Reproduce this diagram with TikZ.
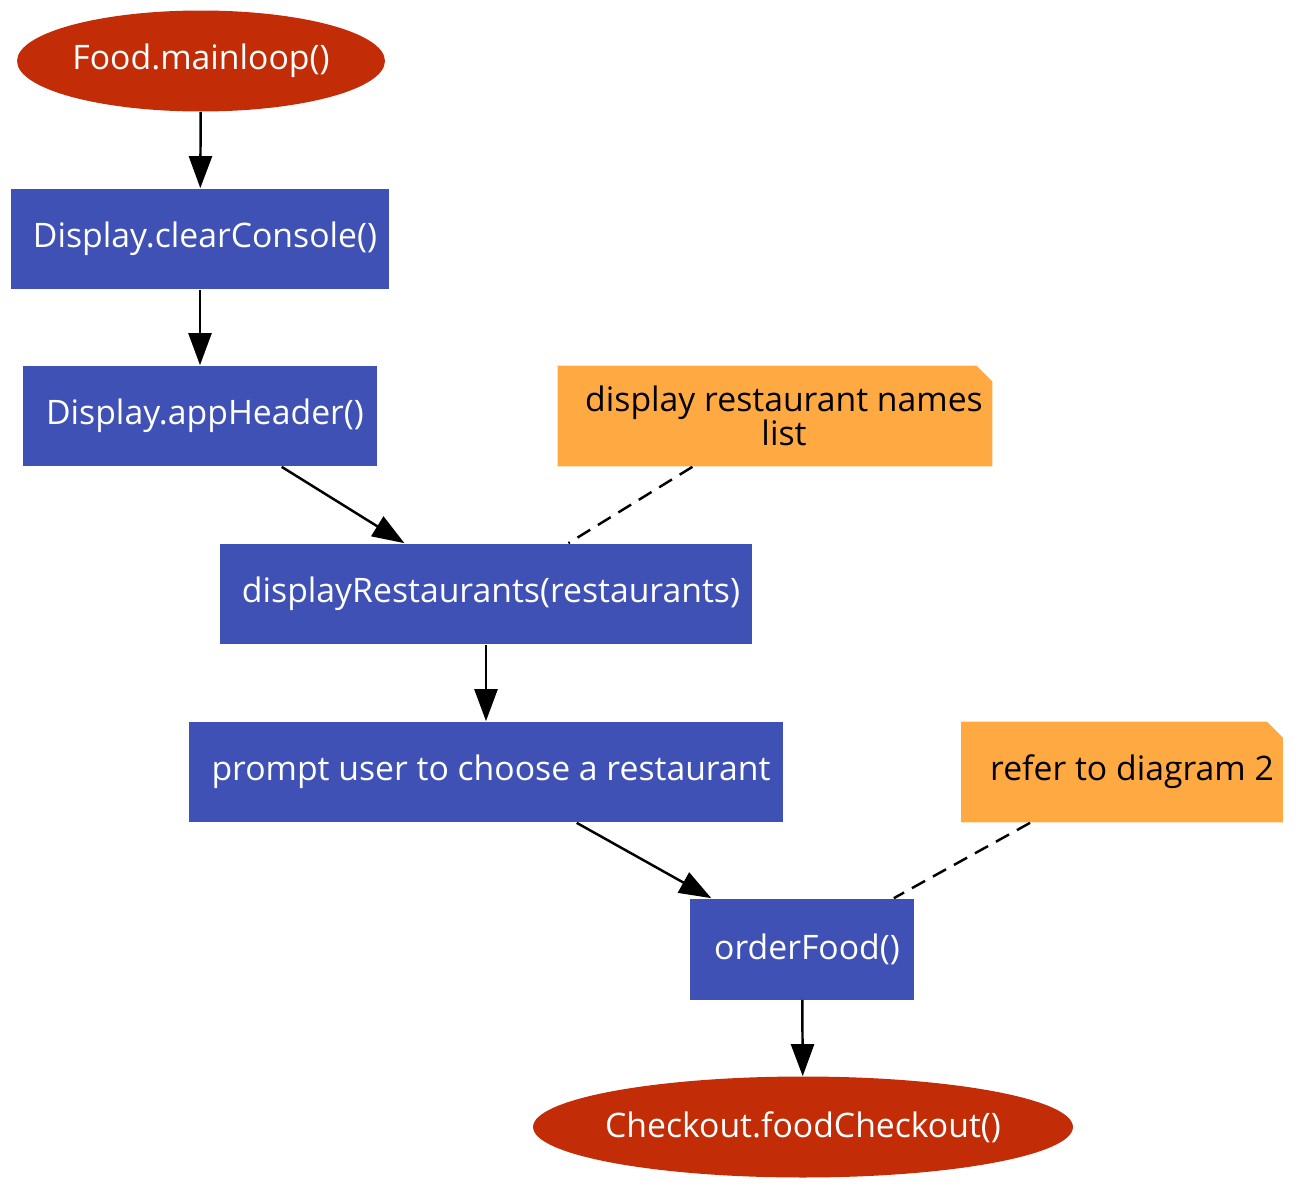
\documentclass[tikz,border=0pt]{standalone}
\usepackage{fontspec}
\setmainfont{Open Sans}
\usetikzlibrary{arrows.meta,shapes.geometric,shapes.misc,positioning}
\definecolor{terminalColor}{RGB}{194,45,7}
\definecolor{stepColor}{RGB}{63,81,181}
\definecolor{noteColor}{RGB}{255,169,66}
\newcommand{\boxline}[1]{\makebox[0pt]{#1}}
\tikzset{terminal/.style={ellipse, fill=terminalColor, text=white, inner sep=0pt, minimum height=2.02cm, font=\fontsize{19.2}{23}\selectfont}}
\tikzset{stepbox/.style={rectangle, fill=stepColor, text=white, inner sep=0pt, minimum height=2.02cm, font=\fontsize{19.2}{23}\selectfont}}
\tikzset{notebox/.style={chamfered rectangle, chamfered rectangle corners=north east, chamfered rectangle xsep=0.32cm, chamfered rectangle ysep=0.32cm, fill=noteColor, text=black, align=center, inner sep=0pt, minimum height=2.02cm, font=\fontsize{19.2}{19.5}\selectfont}}
\tikzset{flow/.style={line width=1.4pt, -{Triangle[length=0.64cm, width=0.46cm]}}}
\tikzset{comment/.style={line width=1.4pt, dash pattern=on 0.3cm off 0.18cm}}

\begin{document}
\begin{tikzpicture}[x=0.02cm, y=-0.02cm]
\useasboundingbox (0,0) rectangle (1308,1203);
% Nodes
\node (FoodMainloop) [terminal, minimum width=7.36cm] at (201,61) {\boxline{Food.mainloop()}};
\node (ClearConsole) [stepbox, minimum width=7.58cm] at (200,239) {\hspace{0.2cm}Display.clearConsole()};
\node (AppHeader) [stepbox, minimum width=7.1cm] at (200,416) {\hspace{0.2cm}Display.appHeader()};
\node (DisplayRestaurants) [stepbox, minimum width=10.64cm] at (486,594) {\hspace{0.2cm}displayRestaurants(restaurants)};
\node (PromptUser) [stepbox, minimum width=11.88cm] at (486,772) {\hspace{0.2cm}prompt user to choose a restaurant};
\node (OrderFood) [stepbox, minimum width=4.5cm] at (802,949) {\hspace{0.2cm}orderFood()};
\node (FoodCheckout) [terminal, minimum width=10.8cm] at (803,1127) {\boxline{Checkout.foodCheckout()}};

\node (NoteNames) [notebox, minimum width=8.7cm] at (775,416) {\boxline{\hspace{0.36cm}display restaurant names}\\\boxline{\hspace{0.36cm}list}};
\node (NoteDiagram) [notebox, minimum width=6.44cm] at (1122,772) {\boxline{\hspace{0.4cm}refer to diagram 2}};

% Connectors
\draw [flow] (FoodMainloop) -- (ClearConsole);
\draw [flow] (ClearConsole) -- (AppHeader);
\draw [flow] (AppHeader) -- (DisplayRestaurants);
\draw [flow] (DisplayRestaurants) -- (PromptUser);
\draw [flow] (PromptUser) -- (OrderFood);
\draw [flow] (OrderFood) -- (FoodCheckout);

\draw [comment] (NoteNames) -- (DisplayRestaurants);
\draw [comment] (NoteDiagram) -- (OrderFood);
\end{tikzpicture}
\end{document}
